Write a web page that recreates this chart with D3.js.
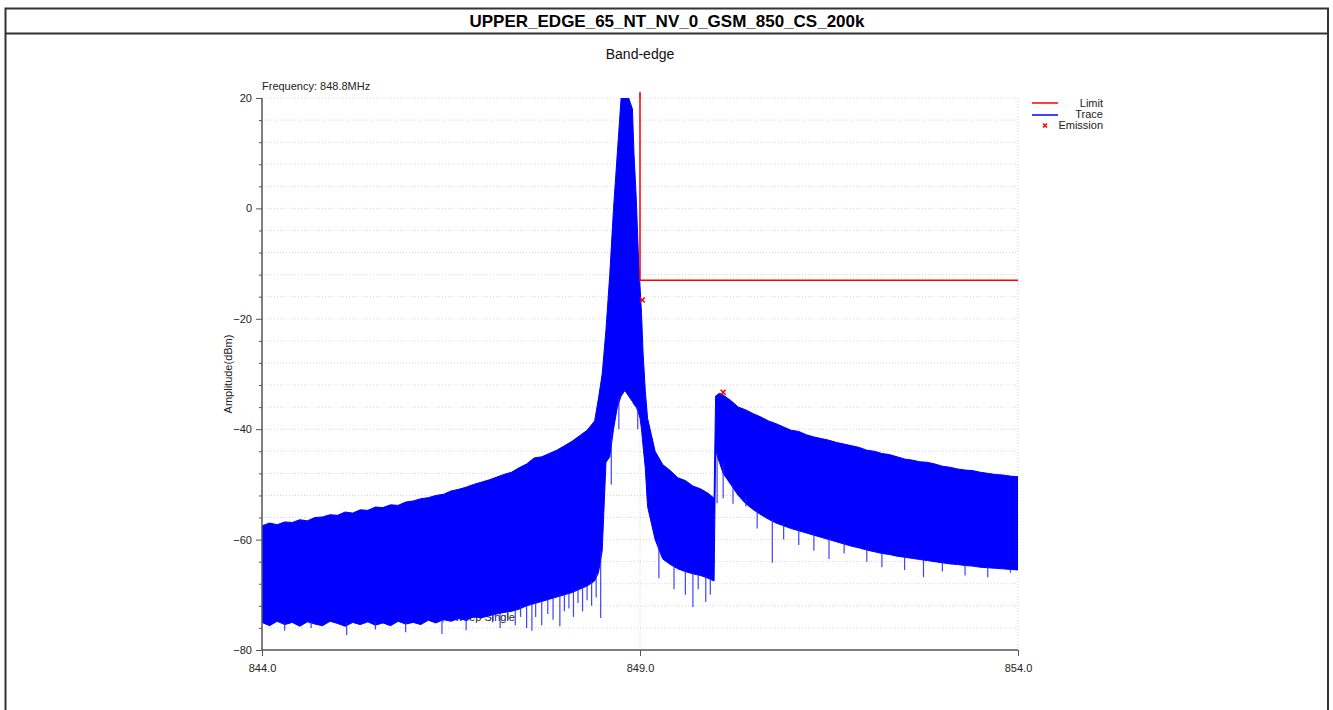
<!DOCTYPE html>
<html><head><meta charset="utf-8">
<script src="https://cdn.jsdelivr.net/npm/d3@7"></script>
<style>
body{margin:0;background:#fff;}
svg{display:block;}
text{font-family:"Liberation Sans",Arial,sans-serif;}
.narrow{font-family:"Liberation Sans Narrow","Arial Narrow","Liberation Sans",sans-serif;}
</style></head><body>
<script>
const chartTitle = "UPPER_EDGE_65_NT_NV_0_GSM_850_CS_200k";
const subTitle = "Band-edge";
const markerLabel = "Frequency: 848.8MHz";
const footLabel = "RBW 3kHz, VBW 10kHz, Sweep Single";
const yLabel = "Amplitude(dBm)";
const xTicks = [844, 849, 854];
const yMajor = [20, 0, -20, -40, -60, -80];
const yMinor = [16,12,8,4,-4,-8,-12,-16,-24,-28,-32,-36,-44,-48,-52,-56,-64,-68,-72,-76];
const legendNames = ["Limit", "Trace", "Emission"];

// Trace envelope (MHz, dBm max, dBm min)
const traceFreq = [844.0,844.1,844.2,844.3,844.4,844.5,844.6,844.7,844.8,844.9,845.0,845.1,845.2,845.3,845.4,845.5,845.6,845.7,845.8,845.9,846.0,846.1,846.2,846.3,846.4,846.5,846.6,846.7,846.8,846.9,847.0,847.1,847.2,847.3,847.4,847.5,847.6,847.7,847.8,847.9,848.0,848.1,848.2,848.3,848.4,848.45,848.5,848.55,848.6,848.65,848.7,848.75,848.8,848.85,848.9,848.92,848.95,848.98,849.0,849.02,849.04,849.07,849.1,849.15,849.2,849.3,849.4,849.5,849.6,849.7,849.8,849.9,849.98,850.0,850.05,850.1,850.2,850.3,850.4,850.5,850.6,850.7,850.8,850.9,851.0,851.1,851.2,851.3,851.4,851.5,851.6,851.7,851.8,851.9,852.0,852.1,852.2,852.3,852.4,852.5,852.6,852.7,852.8,852.9,853.0,853.1,853.2,853.3,853.4,853.5,853.6,853.7,853.8,853.9,854.0];
const traceMax = [-57.5,-57.0,-57.3,-56.8,-56.9,-56.4,-56.6,-56.0,-55.9,-55.5,-55.6,-55.0,-55.2,-54.6,-54.7,-54.1,-54.2,-53.7,-53.8,-53.2,-53.0,-52.6,-52.4,-52.0,-51.8,-51.2,-50.9,-50.5,-50.0,-49.6,-49.2,-48.7,-48.2,-47.8,-47.0,-46.3,-45.2,-45.0,-44.4,-43.8,-43.0,-42.2,-41.2,-40.2,-38.5,-34.5,-30,-22,-12,0,10,20,20,20,18,10,2,-9,-14,-19,-26,-33,-38,-41,-44,-46.4,-47.5,-48.8,-49.3,-50.3,-50.8,-51.6,-52.5,-34.0,-33.5,-33.8,-34.8,-36.0,-36.5,-37.2,-37.8,-38.5,-39.0,-39.6,-40.2,-40.4,-41.0,-41.4,-41.7,-42.0,-42.4,-42.7,-43.0,-43.3,-43.8,-44.0,-44.4,-44.6,-45.0,-45.4,-45.6,-45.9,-46.0,-46.3,-46.7,-46.9,-47.2,-47.4,-47.5,-47.8,-48.0,-48.2,-48.3,-48.5,-48.6];
const traceMin = [-75.0,-75.6,-74.8,-75.4,-75.0,-75.7,-74.9,-75.3,-75.6,-74.8,-75.2,-75.7,-75.0,-75.4,-74.9,-75.5,-75.1,-75.6,-74.8,-75.3,-75.0,-75.4,-74.6,-75.1,-74.5,-74.8,-74.3,-74.6,-74.0,-74.2,-73.8,-73.5,-73.2,-73.0,-72.6,-72.0,-71.6,-71.2,-70.8,-70.4,-70.0,-69.6,-69.0,-68.4,-67.5,-66.0,-62.0,-46,-45,-40,-36,-34,-33,-34,-35,-35.5,-36,-37,-38,-40,-43,-47,-54,-57,-60,-63.5,-64.5,-65.3,-65.8,-66.2,-66.5,-67.0,-67.5,-44,-46,-48,-50,-52,-53.5,-54.6,-55.5,-56.3,-57,-57.5,-58,-58.4,-58.8,-59.2,-59.6,-60,-60.4,-60.8,-61.2,-61.5,-61.9,-62.2,-62.5,-62.7,-63,-63.2,-63.4,-63.6,-63.8,-64,-64.2,-64.4,-64.5,-64.7,-64.8,-65,-65.1,-65.2,-65.3,-65.4,-65.5];

// deep downward spikes of the trace (MHz, dBm)
const spikeFreq = [844.3,844.65,845.12,845.5,845.9,846.38,846.7,847.05,847.15,847.25,847.35,847.42,847.5,847.57,847.62,847.7,847.78,847.85,847.94,848.0,848.06,848.12,848.18,848.24,848.3,848.36,848.42,848.48,848.62,848.72,848.97,849.25,849.45,849.6,849.7,849.77,849.87,849.93,850.02,850.1,850.23,850.4,850.55,850.75,850.9,851.1,851.3,851.5,851.7,852.0,852.2,852.5,852.75,853.0,853.3,853.6,853.9];
const spikeMin = [-76.5,-76,-77.3,-76.3,-76.8,-77.1,-76.4,-75,-76,-74.5,-75.5,-74,-76,-76.5,-74,-75.5,-73.5,-74.5,-75.7,-73,-72.5,-74,-71.5,-73,-71,-72,-70.5,-74.2,-50,-40,-40,-67,-69,-70,-72.2,-69,-71.3,-70,-53.4,-52.5,-53.5,-54,-58,-64.2,-60,-61,-62,-63.5,-62.5,-64,-65,-65.5,-66.8,-65.8,-66.5,-66.8,-66];

// Limit line & emissions
const limitFreq = [849.0, 849.0, 854.0];
const limitVal = [21, -13, -13];
const emissionFreq = [849.03, 850.1];
const emissionVal = [-16.6, -33.3];

const W = 1333, H = 710;
const svg = d3.select("body").append("svg").attr("width", W).attr("height", H);

// frame
svg.append("rect").attr("x",5.5).attr("y",8.5).attr("width",1322.5).attr("height",720)
  .attr("fill","none").attr("stroke","#333").attr("stroke-width",2);
svg.append("line").attr("x1",5.5).attr("x2",1328).attr("y1",33.5).attr("y2",33.5)
  .attr("stroke","#333").attr("stroke-width",2);
svg.append("text").attr("x",667).attr("y",27).attr("text-anchor","middle")
  .attr("font-size",17).attr("font-weight","bold").text(chartTitle);

const x = d3.scaleLinear().domain([844, 854]).range([262, 1018]);
const y = d3.scaleLinear().domain([-80, 20]).range([650, 98]);

svg.append("text").attr("x",640).attr("y",59).attr("text-anchor","middle")
  .attr("font-size",14).attr("fill","#111").text(subTitle);

// grid
const grid = svg.append("g");
grid.selectAll("line.h").data(yMajor.concat(yMinor).filter(v=>v>-80)).enter().append("line")
  .attr("x1",262).attr("x2",1018).attr("y1",d=>y(d)).attr("y2",d=>y(d))
  .attr("stroke","#d4d4d4").attr("stroke-width",1).attr("stroke-dasharray","1,2");
grid.selectAll("line.v").data(xTicks.slice(1)).enter().append("line")
  .attr("x1",d=>x(d)).attr("x2",d=>x(d)).attr("y1",98).attr("y2",650)
  .attr("stroke","#d4d4d4").attr("stroke-width",1).attr("stroke-dasharray","1,2");

// footer text behind trace
svg.append("text").attr("class","narrow").attr("x",515).attr("y",621).attr("text-anchor","end")
  .attr("font-size",11).attr("fill","#222").text(footLabel);

// trace
svg.append("clipPath").attr("id","clip").append("rect")
  .attr("x",262).attr("y",98).attr("width",756).attr("height",552);
const tr = svg.append("g").attr("clip-path","url(#clip)");
const pts = traceFreq.map((f,i)=>({f, hi: traceMax[i], lo: traceMin[i]}));
const area = d3.area().x(d=>x(d.f)).y0(d=>y(d.lo)).y1(d=>y(d.hi));
tr.append("path").datum(pts).attr("d",area).attr("fill","#0000ff")
  .attr("stroke","#0000ff").attr("stroke-width",1);
// spikes: from local min envelope to spike value
const lowAt = f => {
  const i = d3.bisectLeft(traceFreq, f);
  const a = Math.max(0, i-1), b = Math.min(traceFreq.length-1, i);
  return Math.max(traceMin[a], traceMin[b]);
};
tr.selectAll("line.sp").data(spikeFreq.map((f,i)=>({f, v: spikeMin[i]}))).enter().append("line")
  .attr("x1",d=>x(d.f)).attr("x2",d=>x(d.f))
  .attr("y1",d=>y(lowAt(d.f))).attr("y2",d=>y(d.v))
  .attr("stroke","#2020ff").attr("stroke-opacity",0.85).attr("stroke-width",1.2);

// axes
const axG = svg.append("g").attr("class","narrow");
const yAx = axG.append("g").attr("transform","translate(262,0)")
  .call(d3.axisLeft(y).tickValues(yMajor).tickSize(6).tickPadding(4).tickFormat(d3.format("d")));
axG.append("g").attr("transform","translate(262,0)")
  .call(d3.axisLeft(y).tickValues(yMinor).tickSize(3).tickFormat(""))
  .select(".domain").remove();
const xAx = axG.append("g").attr("transform","translate(0,650)")
  .call(d3.axisBottom(x).tickValues(xTicks).tickSize(6).tickPadding(8).tickFormat(d3.format(".1f")));
axG.selectAll(".domain").attr("stroke","#555").attr("stroke-width",1.5);
axG.selectAll(".tick line").attr("stroke","#555");
axG.selectAll(".tick text").attr("font-size",11).attr("fill","#222")
  .attr("font-family","'Liberation Sans Narrow','Arial Narrow',sans-serif");
yAx.select(".domain").attr("d","M0,98V650");
xAx.select(".domain").attr("d","M262,0H1018");

svg.append("text").attr("transform","translate(232,374) rotate(-90)").attr("text-anchor","middle")
  .attr("font-size",11).attr("fill","#222").text(yLabel);
svg.append("text").attr("class","narrow").attr("x",262).attr("y",90)
  .attr("font-size",11).attr("fill","#222").text(markerLabel);

// marker tick at 849 top
svg.append("line").attr("x1",x(849)).attr("x2",x(849)).attr("y1",92).attr("y2",98)
  .attr("stroke","#666").attr("stroke-width",1);

// limit
const limPts = limitFreq.map((f,i)=>[x(f), y(limitVal[i])]);
svg.append("path").attr("d",d3.line()(limPts)).attr("fill","none")
  .attr("stroke","#ff0000").attr("stroke-width",1.5);

// emission markers
const cross = (g, cx, cy, s) => {
  g.append("path").attr("d",`M${cx-s},${cy-s}L${cx+s},${cy+s}M${cx-s},${cy+s}L${cx+s},${cy-s}`)
    .attr("stroke","#ff0000").attr("stroke-width",1.6);
};
emissionFreq.forEach((f,i)=>cross(svg, x(f), y(emissionVal[i]), 2.5));

// legend
const lg = svg.append("g").attr("class","narrow");
lg.append("line").attr("x1",1032).attr("x2",1058).attr("y1",103).attr("y2",103).attr("stroke","#ff0000").attr("stroke-width",1.5);
lg.append("line").attr("x1",1032).attr("x2",1058).attr("y1",115).attr("y2",115).attr("stroke","#0000ff").attr("stroke-width",1.5);
cross(lg, 1045, 125.5, 2);
legendNames.forEach((n,i)=>{
  lg.append("text").attr("x",1103).attr("y",107+i*11).attr("text-anchor","end")
    .attr("font-size",11).attr("fill","#222").text(n);
});
</script>
</body></html>
